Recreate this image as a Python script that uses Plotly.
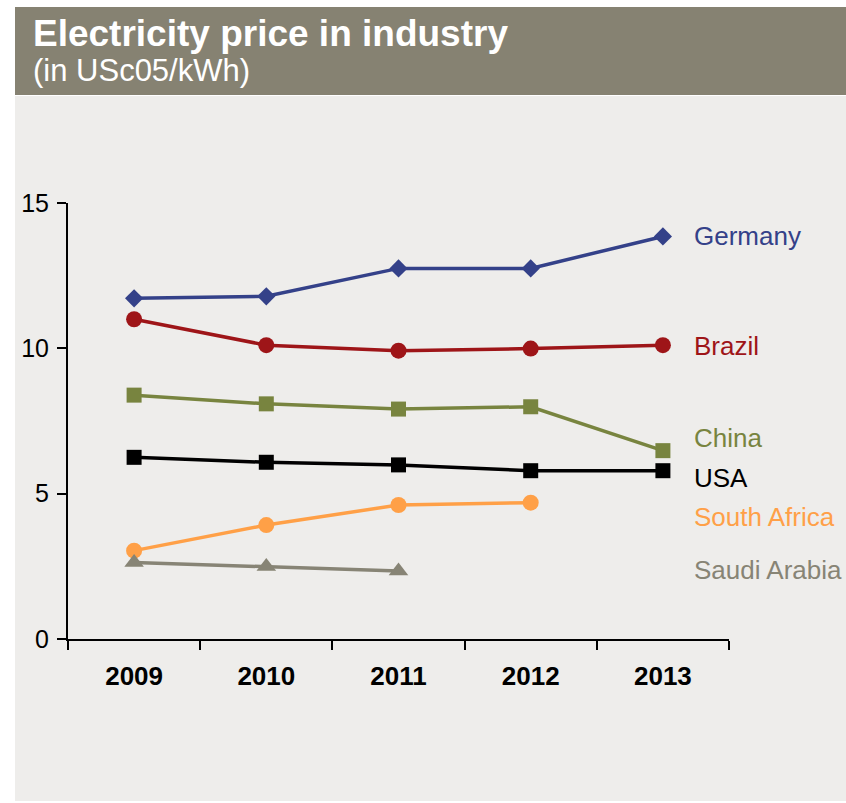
import plotly.graph_objects as go

# Industrial electricity prices, US cents (2005) per kWh
years = ["2009", "2010", "2011", "2012", "2013"]
germany = [11.72, 11.79, 12.75, 12.75, 13.85]
brazil = [11.00, 10.11, 9.92, 9.99, 10.11]
china = [8.39, 8.09, 7.91, 7.99, 6.48]
usa = [6.25, 6.08, 5.99, 5.79, 5.79]
south_africa = [3.04, 3.92, 4.61, 4.69]
saudi_arabia = [2.63, 2.49, 2.34]

series = [
    ("Germany", germany, "#344189", "diamond", 14),
    ("Brazil", brazil, "#9E1518", "circle", 16),
    ("China", china, "#78843F", "square", 15),
    ("USA", usa, "#000000", "square", 15),
    ("South Africa", south_africa, "#FFA047", "circle", 16),
    ("Saudi Arabia", saudi_arabia, "#878475", "triangle-up", 17),
]
# vertical placement (data units) of each series name at the right side
label_y = [13.86, 10.08, 6.91, 5.54, 4.20, 2.37]

W, H = 846, 803
L, R, T, B = 68, 117, 203, 164
PW, PH = W - L - R, H - T - B
FONT = "Liberation Sans, Arial, sans-serif"


def px_x(x):
    return (x - L) / PW


def px_y(y):
    return (H - B - y) / PH


fig = go.Figure()
for name, vals, color, symbol, size in series:
    fig.add_trace(go.Scatter(
        x=years[:len(vals)], y=vals, name=name, mode="lines+markers",
        line=dict(color=color, width=3.5),
        marker=dict(symbol=symbol, size=size, color=color),
        showlegend=False, hoverinfo="x+y+name",
    ))

shapes = [
    # light panel behind everything
    dict(type="rect", xref="paper", yref="paper",
         x0=px_x(15), x1=px_x(W), y0=px_y(801), y1=px_y(96),
         fillcolor="#EEEDEB", line=dict(width=0), layer="below"),
    # title band
    dict(type="rect", xref="paper", yref="paper",
         x0=px_x(15), x1=px_x(W), y0=px_y(95), y1=px_y(7),
         fillcolor="#868272", line=dict(width=0), layer="below"),
]

annotations = [
    dict(text="<b>Electricity price in industry</b>", xref="paper", yref="paper",
         x=px_x(31), y=px_y(33), xanchor="left", yanchor="middle", showarrow=False,
         font=dict(family=FONT, size=37, color="white")),
    dict(text="(in USc05/kWh)", xref="paper", yref="paper",
         x=px_x(31), y=px_y(70), xanchor="left", yanchor="middle", showarrow=False,
         font=dict(family=FONT, size=31, color="white")),
]
for (name, vals, color, symbol, size), ly in zip(series, label_y):
    annotations.append(dict(
        text=name, xref="paper", yref="y", x=px_x(692), y=ly,
        xanchor="left", yanchor="middle", showarrow=False,
        font=dict(family=FONT, size=26, color=color)))

fig.update_layout(
    width=W, height=H,
    margin=dict(l=L, r=R, t=T, b=B, pad=0),
    paper_bgcolor="white", plot_bgcolor="#EEEDEB",
    font=dict(family=FONT, color="black"),
    shapes=shapes, annotations=annotations,
    xaxis=dict(
        type="category", range=[-0.5, 4.5], tickson="boundaries",
        showline=True, linecolor="black", linewidth=2,
        ticks="outside", ticklen=9, tickwidth=2, tickcolor="black",
        showgrid=False, zeroline=False,
        tickfont=dict(family=FONT, size=26, color="black", weight="bold"),
        ticklabelstandoff=13,
    ),
    yaxis=dict(
        range=[0, 15], tickvals=[0, 5, 10, 15],
        showline=True, linecolor="black", linewidth=2,
        ticks="outside", ticklen=9, tickwidth=2, tickcolor="black",
        showgrid=False, zeroline=False,
        tickfont=dict(family=FONT, size=25, color="black"),
        ticklabelstandoff=3,
    ),
)

fig.write_html("out.html")
